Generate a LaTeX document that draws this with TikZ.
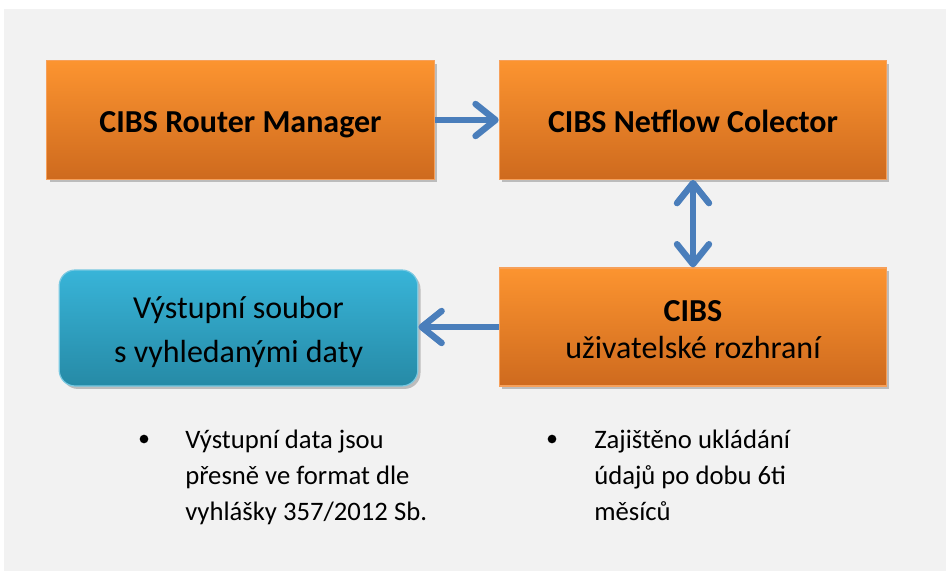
\documentclass[tikz,border=0pt]{standalone}
\usepackage{fontspec}
\setmainfont{Carlito}
\usetikzlibrary{arrows.meta,shadows,positioning}
\definecolor{bggray}{RGB}{242,242,242}
\definecolor{ortop}{RGB}{252,148,48}
\definecolor{orbot}{RGB}{206,106,30}
\definecolor{oredge}{RGB}{246,160,90}
\definecolor{bltop}{RGB}{56,180,216}
\definecolor{blbot}{RGB}{38,138,166}
\definecolor{bledge}{RGB}{120,200,225}
\definecolor{arrblue}{RGB}{74,126,187}
\tikzset{
  orbox/.style={rectangle, draw=oredge, line width=0.9pt, top color=ortop, bottom color=orbot,
    minimum width=290.5pt, minimum height=89pt, inner sep=0pt,
    drop shadow={shadow xshift=2pt, shadow yshift=-2.2pt, opacity=0.22, fill=black}},
  blbox/.style={rectangle, rounded corners=12pt, draw=bledge, line width=0.9pt, top color=bltop, bottom color=blbot,
    minimum width=269pt, minimum height=87pt, inner sep=0pt,
    drop shadow={shadow xshift=2pt, shadow yshift=-2.2pt, opacity=0.22, fill=black}},
  boxtext/.style={align=center, inner sep=0pt, text=black, font=\fontsize{24}{29.5}\selectfont},
  conn/.style={draw=arrblue, line width=4.8pt},
  tipp/.tip={Straight Barb[length=15pt,width=24pt,round]},
  bul/.style={anchor=north west, align=left, inner sep=0pt, font=\fontsize{20}{27}\selectfont},
  dot/.style={circle, fill=black, inner sep=0pt, minimum size=6.5pt}
}
\begin{document}
\begin{tikzpicture}[x=0.75pt,y=-0.75pt]
\useasboundingbox (0,0) rectangle (946,571);
\fill[white] (0,0) rectangle (946,571);
\fill[bggray] (4,9) rectangle (946,571);
\node[orbox, label={[boxtext, yshift=-3.2pt]center:{\textbf{CIBS Router Manager}}}] (rm) at (240.5,120) {};
\node[orbox, label={[boxtext, yshift=-1pt]center:{\textbf{CIBS Netflow Colector}}}] (nc) at (693,120) {};
\node[orbox, minimum height=88.5pt, label={[boxtext, font=\fontsize{24}{28}\selectfont, yshift=-1.9pt]center:{\textbf{CIBS}\\uživatelské rozhraní}}] (ui) at (693,327) {};
\node[blbox, label={[boxtext, font=\fontsize{24}{33}\selectfont, yshift=-3pt]center:{Výstupní soubor\\s vyhledanými daty}}] (out) at (238.5,328) {};
\draw[conn, -{tipp}] (rm.east) -- (nc.west);
\draw[conn, {tipp}-{tipp}] (nc.south) -- (ui.north);
\draw[conn, -{tipp}] (ui.west) -- (ui.west -| out.east);
\node[dot] (b1) at (144,439) {};
\node[bul] (t1) at (185,429.5) {Výstupní data jsou\\přesně ve format dle\\vyhlášky 357/2012 Sb.};
\node[dot] (b2) at (552,439) {};
\node[bul] (t2) at (594,429.5) {Zajištěno ukládání\\údajů po dobu 6ti\\měsíců};
\end{tikzpicture}
\end{document}
